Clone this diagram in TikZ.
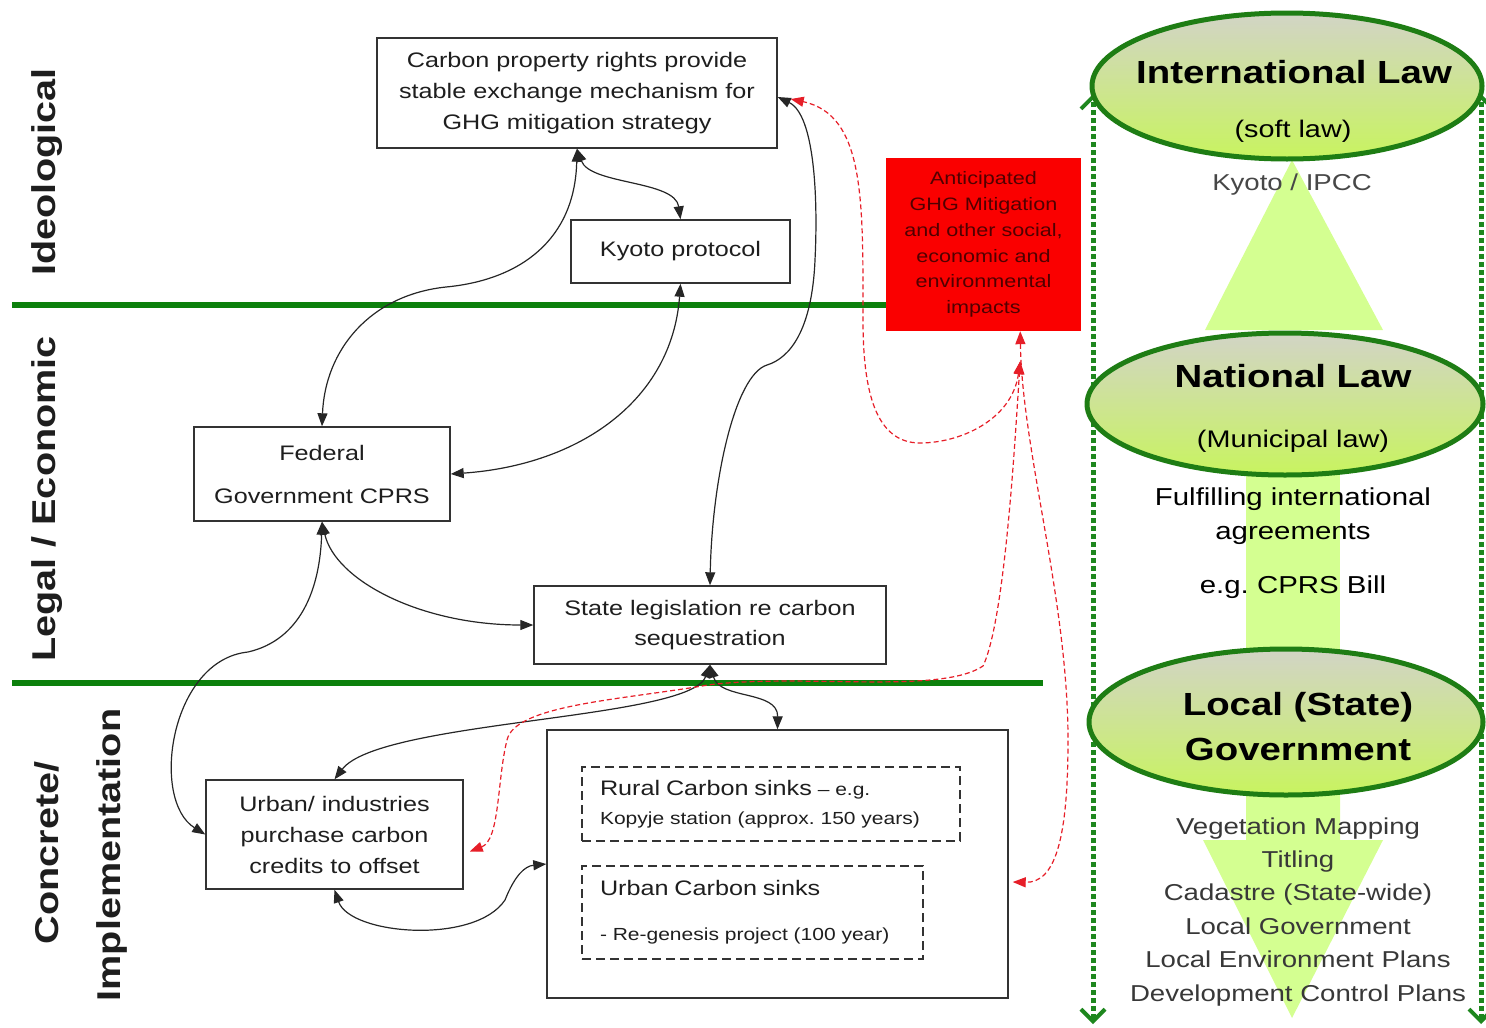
\documentclass[tikz,border=0pt]{standalone}
\usepackage{fontspec}
\setmainfont{Liberation Sans}[FakeStretch=1.2]
\usetikzlibrary{arrows.meta,shapes.geometric,calc}
\definecolor{lineg}{RGB}{12,128,12}
\definecolor{dotg}{RGB}{30,135,30}
\definecolor{egreen}{RGB}{30,125,20}
\definecolor{etop}{RGB}{210,212,198}
\definecolor{ebot}{RGB}{200,244,95}
\definecolor{pale}{RGB}{212,255,145}
\definecolor{rline}{RGB}{230,30,40}
\definecolor{redtext}{RGB}{80,0,0}
\definecolor{txt}{RGB}{30,30,30}
\frenchspacing
\begin{document}
\begin{tikzpicture}[x=1pt,y=-1pt,
  box/.style={draw=black!80, line width=1.4pt, align=center, inner sep=0pt, text=txt, font=\fontsize{21}{31}\selectfont},
  dbox/.style={draw=black!80, line width=1.4pt, dash pattern=on 9pt off 5pt, align=left, inner sep=0pt, text=txt},
  link/.style={line width=1.2pt, draw=black!85, {Triangle[length=13pt,width=10pt]}-{Triangle[length=13pt,width=10pt]}},
  rlink/.style={line width=1.2pt, draw=rline, dash pattern=on 5pt off 3pt, {Triangle[length=13pt,width=10pt]}-{Triangle[length=13pt,width=10pt]}},
  gline/.style={line width=6pt, draw=lineg},
  dotline/.style={line width=5pt, draw=dotg, dash pattern=on 5pt off 3pt, {Straight Barb[length=12pt,width=24pt,line width=4pt]}-{Straight Barb[length=12pt,width=24pt,line width=4pt]}},
  ell/.style={ellipse, draw=egreen, line width=5pt, top color=etop, bottom color=ebot, inner sep=0pt},
  lab/.style={font=\fontsize{33}{36}\selectfont\bfseries, text=txt, inner sep=0pt, rotate=90},
  ttl/.style={anchor=base, font=\fontsize{32}{36}\selectfont\bfseries, text=black},
  sub/.style={anchor=base, font=\fontsize{24}{28}\selectfont, text=black},
  lst/.style={anchor=base, font=\fontsize{23}{26}\selectfont, text=black!78}]
\useasboundingbox (0,0) rectangle (1486,1028);

% layer lines
\draw[gline] (12,305) -- (890,305);
\draw[gline] (12,683) -- (1043,683);

% left labels
\node[lab] (ideo) at (47,172) {Ideological};
\node[lab] (legal) at (47,499) {Legal / Economic};
\node[lab] (concr) at (47,853) {Concrete/};
\node[lab] (impl) at (112,855) {Implementation};

% boxes
\node[box, minimum width=400pt, minimum height=110pt] (carbon) at (577,93) {Carbon property rights provide\\stable exchange mechanism for\\GHG mitigation strategy};
\node[box, minimum width=219pt, minimum height=63pt] (kyoto) at (680.5,251.5) {Kyoto protocol};
\node[box, minimum width=256pt, minimum height=94pt, font=\fontsize{21}{43}\selectfont] (federal) at (322,474) {Federal\\Government CPRS};
\node[box, minimum width=352pt, minimum height=78pt, font=\fontsize{21}{30}\selectfont] (state) at (710,625) {State legislation re carbon\\sequestration};
\node[box, minimum width=257pt, minimum height=109pt] (urbanind) at (334.5,834.5) {Urban/ industries\\purchase carbon\\credits to offset};
\node[box, minimum width=461pt, minimum height=268pt] (sinks) at (777.5,864) {};
\node[dbox, minimum width=378pt, minimum height=74pt, text width=342pt, font=\fontsize{17.5}{29}\selectfont] (rural) at (771,804) {{\fontsize{21}{29}\selectfont Rural Carbon sinks} – e.g.\\Kopyje station (approx. 150 years)};
\node[dbox, minimum width=341pt, minimum height=93pt, text width=305pt, font=\fontsize{17.5}{45}\selectfont] (urbansink) at (752.5,912.5) {{\fontsize{21}{45}\selectfont Urban Carbon sinks}\\- Re-genesis project (100 year)};
\node[fill={rgb,255:red,250;green,0;blue,0}, minimum width=195pt, minimum height=173pt, inner sep=0pt, align=center, text=redtext, font=\fontsize{18}{25.8}\selectfont] (red) at (983.5,244.5) {Anticipated\\GHG Mitigation\\and other social,\\economic and\\environmental\\impacts};

% free ends
\coordinate (rtip) at ([xshift=-61pt]red.south east);
\coordinate (rtip2) at ([xshift=-61pt,yshift=-30pt]red.south east);
\coordinate (ctip) at ([yshift=-4pt]carbon.east);
\coordinate (ctipr) at ([xshift=13pt,yshift=-6pt]carbon.east);
\coordinate (uitip) at ([xshift=6pt,yshift=-17pt]urbanind.east);
\coordinate (stip) at ([xshift=4pt,yshift=-18pt]sinks.east);

% black connectors
\draw[link] (carbon.south) .. controls (590,185) and (675,180) .. (kyoto.north);
\draw[link] (carbon.south) .. controls (575,240) and (520,280) .. (446,287) .. controls (370,295) and (325,350) .. (federal.north);
\draw[link] (kyoto.south) .. controls (672,400) and (580,465) .. (federal.east);
\draw[link] (ctip) .. controls (815,115) and (818,200) .. (815,260) .. controls (812,330) and (790,358) .. (767,365) .. controls (735,375) and (712,480) .. (state.north);
\draw[link] (federal.south) .. controls (335,580) and (420,625) .. (state.west);
\draw[link] (federal.south) .. controls (320,590) and (300,640) .. (248,652) .. controls (170,660) and (150,800) .. (urbanind.west);
\draw[link] (state.south) .. controls (690,720) and (380,720) .. (urbanind.north);
\draw[link] (state.south) .. controls (720,700) and (778,690) .. (sinks.north);
\draw[link] (urbanind.south) .. controls (350,935) and (475,945) .. (505,900) .. controls (515,875) and (525,866) .. (sinks.west);

% red dashed connectors
\draw[rlink] (rtip2) .. controls (1012,420) and (960,443) .. (920,443) .. controls (875,443) and (863,390) .. (863,320) .. controls (863,200) and (865,115) .. (ctipr);
\draw[rlink] (uitip) .. controls (500,840) and (497,780) .. (507,740) .. controls (515,705) and (620,700) .. (708,685) .. controls (800,673) and (940,695) .. (983,666) .. controls (1005,620) and (1015,440) .. (rtip2);
\draw[rlink] (rtip) .. controls (1022,450) and (1068,600) .. (1068,740) .. controls (1068,840) and (1055,883) .. (stip);

% right panel
\draw[dotline] (1093,1024) -- (1093,94);
\draw[dotline] (1481,1024) -- (1481,94);
\fill[pale] (1292,160) -- (1383,330) -- (1205,330) -- cycle;
\fill[pale] (1246,460) rectangle (1340,665);
\fill[pale] (1246,780) -- (1340,780) -- (1340,840) -- (1383,840) -- (1292,1018) -- (1203,840) -- (1246,840) -- cycle;
\node[ell, minimum width=390pt, minimum height=146pt] (intl) at (1287,86) {};
\node[ell, minimum width=396pt, minimum height=142pt] (natl) at (1285,404) {};
\node[ell, minimum width=394pt, minimum height=146pt] (locl) at (1286,722) {};

\node[ttl] (intlT) at (1294,83) {International Law};
\node[sub] (intlS) at (1293,137) {(soft law)};
\node[lst, text=black!72] (kyipcc) at (1292,190) {Kyoto / IPCC};
\node[ttl] (natlT) at (1293,387) {National Law};
\node[sub] (natlS) at (1293,447) {(Municipal law)};
\node[sub, font=\fontsize{24.5}{28}\selectfont] (fulf1) at (1293,505) {Fulfilling international};
\node[sub, font=\fontsize{24.5}{28}\selectfont] (fulf2) at (1293,539) {agreements};
\node[sub, font=\fontsize{24.5}{28}\selectfont] (cprs) at (1293,593) {e.g. CPRS Bill};
\node[ttl] (loclT) at (1298,715) {Local (State)};
\node[ttl] (loclG) at (1298,760) {Government};
\node[lst] (l1) at (1298,834) {Vegetation Mapping};
\node[lst] (l2) at (1298,867) {Titling};
\node[lst] (l3) at (1298,900) {Cadastre (State-wide)};
\node[lst] (l4) at (1298,934) {Local Government};
\node[lst] (l5) at (1298,967) {Local Environment Plans};
\node[lst] (l6) at (1298,1001) {Development Control Plans};
\end{tikzpicture}
\end{document}
